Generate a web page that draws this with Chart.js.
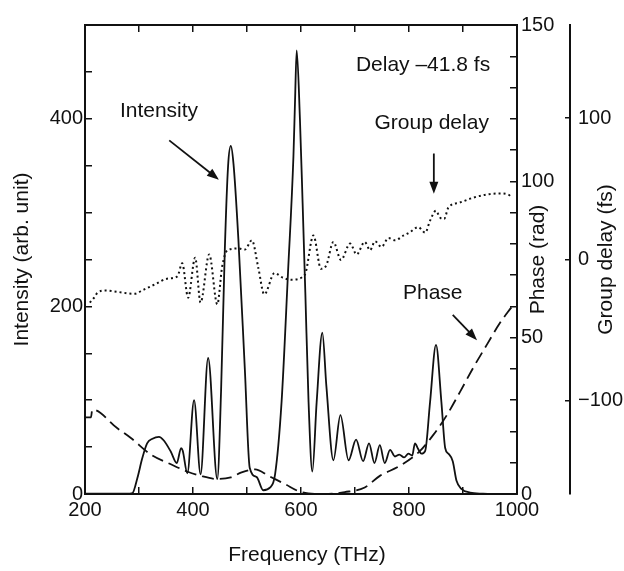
<!DOCTYPE html>
<html>
<head>
<meta charset="utf-8">
<script src="https://cdn.jsdelivr.net/npm/chart.js@4.4.1/dist/chart.umd.min.js"></script>
<style>
  html, body { margin: 0; padding: 0; background: #fff; }
  #wrap { width: 624px; height: 571px; }
</style>
</head>
<body>
<div id="wrap"><canvas id="myChart" width="624" height="571"></canvas></div>
<script>
// spectrum intensity (arb. unit) against frequency (THz)
const freqIntensity = [200, 250, 283, 288, 297, 306, 315, 325, 337, 346, 359, 370, 378, 381, 389.5, 402, 414, 428, 445,
  452, 459, 465, 470, 475, 484, 496, 505, 518, 530, 543, 552, 564, 576, 586, 589, 592, 598, 603, 608, 614, 621,
  629, 639.5, 647, 660, 673, 688, 702, 715, 726, 736, 746, 755, 765, 774, 782, 791, 799, 806, 811, 817, 823, 830,
  839, 850, 860, 867, 873, 881, 888, 897, 913, 937, 950];
const intensity = [0.5, 0.5, 0.5, 1, 17, 38, 54, 59, 61, 57, 45, 33, 49, 46, 22, 100, 21, 145, 16,
  110, 262, 350, 371, 352, 272, 133, 28, 18, 4, 7, 21, 98, 237, 360, 420, 473, 400, 310, 215, 98, 24,
  98, 172, 115, 36, 84, 36, 58, 35, 54, 33, 52, 33, 47, 40, 42, 39, 43, 41, 54, 48, 43, 46,
  98, 159, 98, 49, 43, 35, 14, 5.5, 1.5, 0.3, 0];

// spectral phase (rad)
const freqPhase = [200, 211, 213.5, 260, 285, 322, 359, 389, 414, 445, 470, 490, 515, 540, 570, 601, 644, 681,
  718, 746, 783, 820, 845, 870, 894, 919, 944, 968, 990];
const phase = [24.5, 24.5, 27, 21, 17.9, 12.6, 9.5, 7.2, 5.8, 4.8, 5.3, 6.9, 7.9, 5.8, 3.2, 0.6, 0, 0.6,
  2.1, 5.8, 9, 13.7, 18.9, 25.2, 32.5, 40.4, 47.7, 54.6, 59.8];

// group delay (fs)
const freqDelay = [209, 217, 223, 238, 260, 291, 309, 331, 352, 371, 380, 391, 404, 414, 430, 445, 454, 464,
  484, 496, 509, 521, 532, 551, 567, 583, 607, 623, 637, 647, 660, 674, 691, 703, 718, 728, 737, 749, 762,
  774, 790, 802, 817, 830, 839, 850, 857, 865, 873, 894, 919, 944, 968, 984, 990];
const groupDelay = [-30.5, -27, -23.6, -22, -22.9, -24.3, -21.3, -17.3, -13.6, -12, -2.7, -27, 1.3, -30.5, 3.6, -31.7, -5, 6.6,
  7.8, 7, 13.6, -6, -24.7, -9.6, -13, -14.3, -10.8, 17, -6.6, -4, 12.4, -0.3, 11.3, 3.6, 12.4, 6.6, 12.9, 8.9, 15.2,
  13.6, 17, 19.4, 22.9, 19, 27.5, 34.5, 29.8, 28.7, 36.8, 40.3, 43.8, 46, 46.8, 46, 43.8];

// labelled ticks
const freqLabels = [200, 400, 600, 800, 1000];
const intensityLabels = [0, 200, 400];
const phaseLabels = [0, 50, 100, 150];
const delayLabels = [-100, 0, 100];

const ink = '#111';
const fontFamily = "'Liberation Sans', Arial, Helvetica, sans-serif";
Chart.defaults.font.family = fontFamily;
Chart.defaults.font.size = 20;
Chart.defaults.color = ink;

const pts = (xs, ys) => xs.map((x, i) => ({x: x, y: ys[i]}));

// text notes and arrows, placed in frequency / intensity units
const notes = [
  {text: 'Delay \u201341.8 fs', f: 826, v: 457},
  {text: 'Intensity', f: 337, v: 408},
  {text: 'Group delay', f: 842, v: 395},
  {text: 'Phase', f: 844, v: 214},
];
const arrows = [
  [356, 377, 448, 335],
  [846, 363, 846, 320],
  [881, 191, 926, 164],
];

const inward = (len, pad) => ({
  grid: {drawOnChartArea: false, drawTicks: true, tickLength: len, lineWidth: 1.5, color: ink},
  border: {display: true, width: 2, color: ink},
  ticks: {padding: pad, autoSkip: false, maxRotation: 0, color: ink},
});

const decor = {
  id: 'decor',
  afterDraw(chart) {
    const {ctx} = chart;
    const x = chart.scales.x, y = chart.scales.y;
    ctx.save();
    ctx.fillStyle = ink;
    ctx.strokeStyle = ink;
    ctx.font = '21px ' + fontFamily;
    ctx.textAlign = 'center';
    ctx.textBaseline = 'middle';
    notes.forEach(n => ctx.fillText(n.text, x.getPixelForValue(n.f), y.getPixelForValue(n.v)));

    ctx.lineWidth = 1.8;
    arrows.forEach(a => {
      const x0 = x.getPixelForValue(a[0]), y0 = y.getPixelForValue(a[1]);
      const x1 = x.getPixelForValue(a[2]), y1 = y.getPixelForValue(a[3]);
      const ang = Math.atan2(y1 - y0, x1 - x0);
      ctx.beginPath();
      ctx.moveTo(x0, y0);
      ctx.lineTo(x1 - 8 * Math.cos(ang), y1 - 8 * Math.sin(ang));
      ctx.stroke();
      ctx.beginPath();
      ctx.moveTo(x1, y1);
      ctx.lineTo(x1 - 12 * Math.cos(ang) + 4.5 * Math.sin(ang), y1 - 12 * Math.sin(ang) - 4.5 * Math.cos(ang));
      ctx.lineTo(x1 - 12 * Math.cos(ang) - 4.5 * Math.sin(ang), y1 - 12 * Math.sin(ang) + 4.5 * Math.cos(ang));
      ctx.closePath();
      ctx.fill();
    });

    // axis titles
    const area = chart.chartArea;
    const midY = (area.top + area.bottom) / 2;
    ctx.fillText('Frequency (THz)', 307, 555);
    [['Intensity (arb. unit)', 22], ['Phase (rad)', 538], ['Group delay (fs)', 606]].forEach(t => {
      ctx.save();
      ctx.translate(t[1], midY);
      ctx.rotate(-Math.PI / 2);
      ctx.fillText(t[0], 0, 0);
      ctx.restore();
    });
    ctx.restore();
  }
};

const config = {
  type: 'line',
  data: {
    datasets: [
      {
        label: 'Intensity',
        data: pts(freqIntensity, intensity),
        yAxisID: 'y',
        borderColor: ink,
        borderWidth: 1.8,
        cubicInterpolationMode: 'monotone',
      },
      {
        label: 'Phase',
        data: pts(freqPhase, phase),
        yAxisID: 'yPhase',
        borderColor: ink,
        borderWidth: 1.8,
        borderDash: [12, 6],
        cubicInterpolationMode: 'monotone',
      },
      {
        label: 'Group delay',
        data: pts(freqDelay, groupDelay),
        yAxisID: 'yDelay',
        borderColor: ink,
        borderWidth: 2,
        borderDash: [2, 3],
        cubicInterpolationMode: 'monotone',
      },
    ]
  },
  options: {
    responsive: false,
    animation: false,
    layout: {padding: 0},
    elements: {point: {radius: 0}, line: {fill: false}},
    datasets: {line: {clip: 4}},
    plugins: {legend: {display: false}, tooltip: {enabled: false}},
    scales: {
      x: {
        type: 'linear', position: 'bottom', min: 200, max: 1000,
        ...inward(-7, 11),
        ticks: {stepSize: 100, padding: 11, autoSkip: false, maxRotation: 0, color: ink,
          callback: v => freqLabels.includes(v) ? String(v) : ''},
        afterFit: s => { s.height = 77; },
      },
      xTop: {
        type: 'linear', position: 'top', min: 200, max: 1000,
        ...inward(-7, 0),
        ticks: {stepSize: 100, display: false},
        afterFit: s => { s.height = 16; },
      },
      y: {
        type: 'linear', position: 'left', min: 0, max: 500,
        ...inward(-7, 9),
        ticks: {stepSize: 50, padding: 9, autoSkip: false, color: ink,
          callback: v => intensityLabels.includes(v) ? String(v) : ''},
        afterFit: s => { s.width = 85; },
      },
      yPhase: {
        type: 'linear', position: 'right', min: 0, max: 150,
        ...inward(-7, 11),
        ticks: {stepSize: 10, padding: 11, autoSkip: false, color: ink,
          callback: v => phaseLabels.includes(v) ? String(v) : ''},
        afterFit: s => { s.width = 53; },
      },
      yDelay: {
        type: 'linear', position: 'right', min: -166, max: 166,
        ...inward(-5, 13),
        ticks: {stepSize: 100, padding: 13, autoSkip: false, color: ink,
          callback: v => v < 0 ? '\u2212' + Math.abs(v) : String(v)},
        afterBuildTicks: s => { s.ticks = s.ticks.filter(t => delayLabels.includes(t.value)); },
        afterFit: s => { s.width = 54; },
      },
    }
  },
  plugins: [decor]
};

var myChart = new Chart(document.getElementById('myChart'), config);
</script>
</body>
</html>
